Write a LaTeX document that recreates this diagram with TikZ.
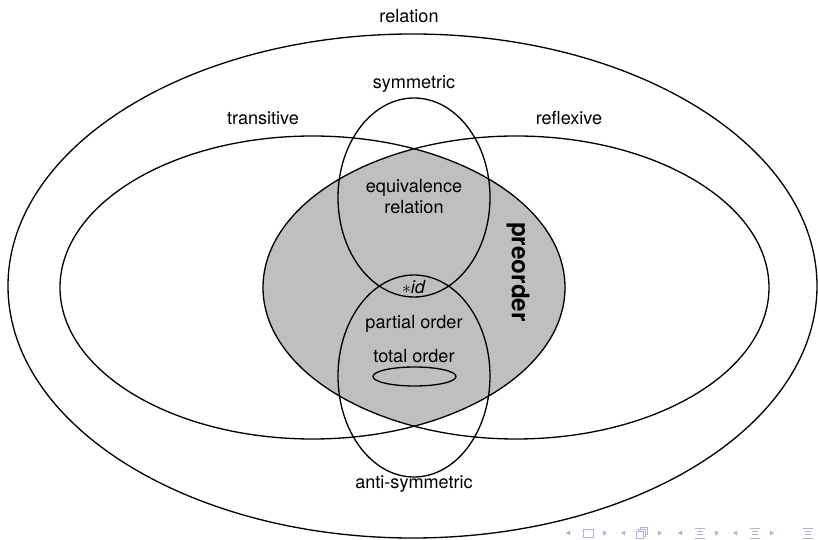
\documentclass[tikz,border=0pt]{standalone}
\usepackage{fontspec}
\setmainfont{TeX Gyre Heros}
\definecolor{navcol}{rgb}{0.70,0.70,0.88}
\begin{document}
\begin{tikzpicture}[x=0.02cm, y=-0.02cm, line width=0.75pt,
    every node/.style={font=\fontsize{10.3}{12}\selectfont}]
    \useasboundingbox (0,0) rectangle (818,540);

    % Centres of the sets
    \coordinate (R) at (412.5,286);
    \coordinate (T) at (312.5,287.5);
    \coordinate (F) at (516,287.5);
    \coordinate (S) at (414,197.5);
    \coordinate (A) at (414,376);
    \coordinate (O) at (414.5,376.5);

    % Preorder = transitive and reflexive
    \begin{scope}
        \clip (T) ellipse [x radius=252.5, y radius=151.5];
        \fill[black!25] (F) ellipse [x radius=253, y radius=151.5];
    \end{scope}

    % Draw sets
    \draw (R) ellipse [x radius=404.5, y radius=252];
    \draw (T) ellipse [x radius=252.5, y radius=151.5];
    \draw (F) ellipse [x radius=253, y radius=151.5];
    \draw (S) ellipse [x radius=76, y radius=99.5];
    \draw (A) ellipse [x radius=76, y radius=101];
    \draw (O) ellipse [x radius=41.5, y radius=9.5];

    % Labels
    \node (relation) at (409,16) {relation};
    \node (symmetric) at (414,84) {symmetric};
    \node (transitive) at (263,118) {transitive};
    \node (reflexive) at (569,118) {reflexive};
    \node[align=center] (equivalence) at (414,196.5) {equivalence\\relation};
    \node (id) at (414,287) {$\ast$\textit{id}};
    \node (partial) at (414,324) {partial order};
    \node (total) at (414,356) {total order};
    \node (antisymmetric) at (414,484) {anti-symmetric};
    \node[rotate=-90, font=\fontsize{13.8}{16}\selectfont\bfseries] (preorder) at (518,272) {preorder};

    % Navigation symbols
    \begin{scope}[navcol, line width=0.5pt]
        \foreach \x in {568,623,680,735}
            \fill (\x+2,530.5) -- (\x-2,533) -- (\x+2,535.5) -- cycle;
        \foreach \x in {605,660,717,772}
            \fill (\x-2,530.5) -- (\x+2,533) -- (\x-2,535.5) -- cycle;
        \draw (583,529.5) rectangle (593,537);
        \draw (636,531) rectangle (643,538);
        \draw (638,531) -- (638,529) -- (645,529) -- (645,536) -- (643,536);
        \draw (640,529) -- (640,527) -- (647,527) -- (647,534) -- (645,534);
        \foreach \x in {700,755,808} {
            \draw (\x-5,528) -- (\x+5,528);
            \draw (\x-3,531.5) -- (\x+3,531.5);
            \draw (\x-3,534.5) -- (\x+3,534.5);
            \draw (\x-5,538) -- (\x+5,538);
        }
    \end{scope}

\end{tikzpicture}
\end{document}
